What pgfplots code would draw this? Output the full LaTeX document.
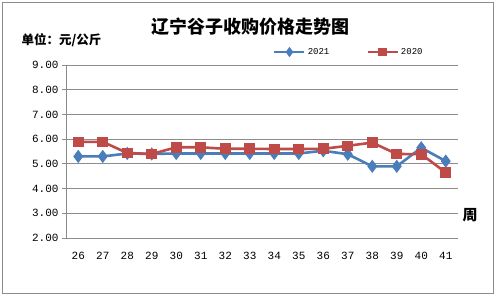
\documentclass[border=0pt]{standalone}
\usepackage{fontspec}
\usepackage{pgfplots}
\pgfplotsset{compat=1.18}
\setmainfont{Liberation Mono}
\newfontfamily\cjk{Noto Sans CJK SC}
\definecolor{blueL}{HTML}{4A7EBB}
\definecolor{redL}{HTML}{BE4B48}
\definecolor{gridc}{HTML}{8C8C8C}
\begin{document}
\begin{tikzpicture}[x=1pt,y=1pt]
\useasboundingbox (0,0) rectangle (497,296);
\draw[gridc, line width=0.9pt] (2.5,2.5) rectangle (493.5,293.5);
\begin{axis}[at={(66pt,58pt)}, anchor=south west, scale only axis,
  width=392pt, height=173pt,
  xmin=25.5, xmax=41.5, ymin=2, ymax=9,
  xtick={26,...,41}, ytick={2,...,9},
  axis x line=bottom, axis y line=left,
  axis line style={gridc, line width=0.9pt, -},
  ymajorgrids, grid style={gridc, line width=0.9pt},
  tick align=outside, major tick length=4pt,
  tick style={gridc, line width=0.9pt},
  x tick style={draw=none},
  tick label style={font=\fontsize{11}{12}\selectfont},
  xticklabel style={yshift=-7pt},
  /pgf/number format/assume math mode=true,
  yticklabel={\pgfmathprintnumber[fixed,fixed zerofill,precision=2]{\tick}},
  xticklabel={\pgfmathprintnumber[int detect]{\tick}},
  clip=false,
  legend columns=2,
  legend style={at={(0.528,1.075)}, anchor=west, draw=none, fill=none, inner sep=0pt,
    font=\fontsize{9}{10}\selectfont, /tikz/every even column/.append style={column sep=35pt}},
  legend image code/.code={\draw[mark repeat=2,mark phase=2,#1,mark size=3pt] plot coordinates {(0pt,0pt) (15pt,0pt) (30pt,0pt)};},
]
\addplot[blueL, line width=2.6pt, mark=diamond*, mark size=4.5pt, mark options={solid}] coordinates {
(26,5.30) (27,5.30) (28,5.42) (29,5.40) (30,5.42) (31,5.42) (32,5.42) (33,5.42)
(34,5.42) (35,5.42) (36,5.53) (37,5.39) (38,4.90) (39,4.90) (40,5.65) (41,5.11)};
\addlegendentry{2021}
\addplot[redL, line width=2.6pt, mark=square*, mark size=4pt, mark options={solid}] coordinates {
(26,5.89) (27,5.89) (28,5.44) (29,5.40) (30,5.67) (31,5.67) (32,5.61) (33,5.61)
(34,5.60) (35,5.60) (36,5.61) (37,5.73) (38,5.86) (39,5.40) (40,5.39) (41,4.65)};
\addlegendentry{2020}
\end{axis}
\node[font=\cjk\bfseries\fontsize{18}{20}\selectfont] at (250,269) {辽宁谷子收购价格走势图};
\node[anchor=west, font=\cjk\bfseries\fontsize{12.5}{14}\selectfont] at (18,256) {单位：元/公斤};
\node[font=\cjk\bfseries\fontsize{15}{16}\selectfont] at (470,81) {周};
\end{tikzpicture}
\end{document}
